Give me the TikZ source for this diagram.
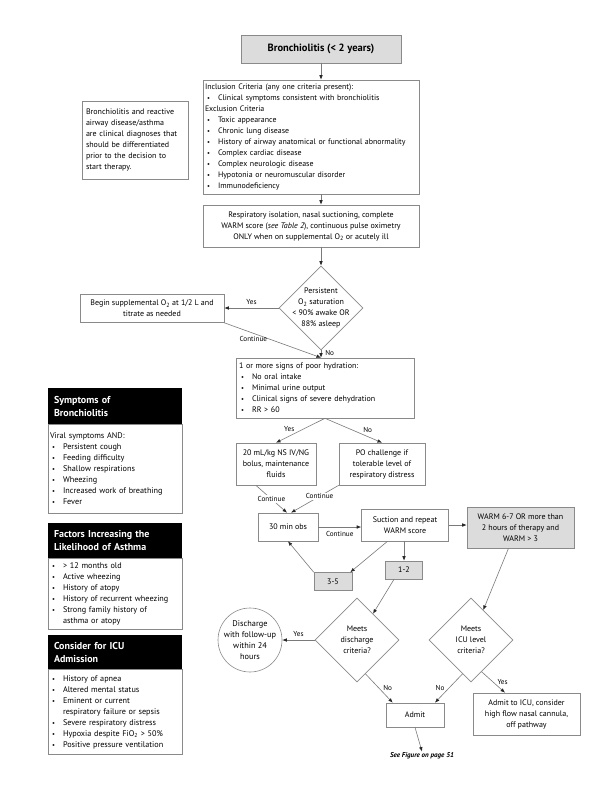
\documentclass[tikz,border=0pt]{standalone}
\usepackage{fontspec}
\setmainfont{PT Sans}
\usetikzlibrary{shapes.geometric,arrows.meta,positioning,calc}
\definecolor{boxline}{HTML}{8A8A8A}
\definecolor{lineg}{HTML}{7A7A7A}
\definecolor{cellgray}{HTML}{DCDCDC}
\newcommand\itm{\hspace*{2pt}\makebox[11pt][l]{\fontsize{6.5}{6}\selectfont\textbullet}}
\newcommand\hng{\hspace*{13pt}}
\tikzset{
  box/.style={draw=boxline, line width=.6pt, fill=white, inner sep=0pt, align=center, font=\fontsize{8}{11}\selectfont},
  shaded/.style={box, fill=cellgray},
  decision/.style={diamond, draw=boxline, line width=.6pt, fill=white, inner sep=-5pt, minimum width=84pt, minimum height=84pt, align=center, font=\fontsize{8}{11}\selectfont},
  arr/.style={draw=lineg, line width=.6pt, -{Latex[length=4.5pt,width=3.6pt,color=black!85]}},
  lab/.style={font=\fontsize{7.2}{8}\selectfont, inner sep=1pt},
  sidehead/.style={fill=black, text=white, inner sep=0pt, minimum width=134pt, text width=122pt, align=left, font=\fontsize{10}{13}\selectfont\bfseries},
  sidebody/.style={draw=boxline, line width=.6pt, inner sep=0pt, minimum width=134pt, text width=130pt, align=left, font=\fontsize{8.2}{11}\selectfont},
}
\begin{document}
\begin{tikzpicture}[x=1pt, y=-1pt]
\path[fill=white, use as bounding box] (0,0) rectangle (612,792);

% main column
\node[shaded, minimum width=160pt, minimum height=28pt, font=\fontsize{10.5}{12}\selectfont\bfseries] (title) at (321,49) {Bronchiolitis (< 2 years)};
\node[box, minimum width=216pt, minimum height=114pt, text width=212pt, align=left, font=\fontsize{7.9}{11}\selectfont] (incl) at (311,137) {Inclusion Criteria (any one criteria present):\\
  \itm Clinical symptoms consistent with bronchiolitis\\
  Exclusion Criteria\\
  \itm Toxic appearance\\
  \itm Chronic lung disease\\
  \itm History of airway anatomical or functional abnormality\\
  \itm Complex cardiac disease\\
  \itm Complex neurologic disease\\
  \itm Hypotonia or neuromuscular disorder\\
  \itm Immunodeficiency};
\node[box, minimum width=106pt, minimum height=78pt, text width=98pt, align=left] (note) at (135,140) {Bronchiolitis and reactive\\airway disease/asthma\\are clinical diagnoses that\\should be differentiated\\prior to the decision to\\start therapy.};
\node[box, minimum width=216pt, minimum height=42pt] (resp) at (311,226) {Respiratory isolation, nasal suctioning, complete\\WARM score (\textit{see Table 2}), continuous pulse oximetry\\ONLY when on supplemental O\textsubscript{2} or acutely ill};
\node[decision] (sat) at (321,308) {Persistent\\O\textsubscript{2} saturation\\< 90\% awake OR\\88\% asleep};
\node[box, minimum width=144pt, minimum height=28pt] (oxy) at (152,308.5) {Begin supplemental O\textsubscript{2} at 1/2 L and\\titrate as needed};
\node[box, minimum width=178pt, minimum height=60pt, text width=172pt, align=left] (hydr) at (325,388) {1 or more signs of poor hydration:\\
  \itm No oral intake\\
  \itm Minimal urine output\\
  \itm Clinical signs of severe dehydration\\
  \itm RR > 60};
\node[box, minimum width=80pt, minimum height=42pt] (bolus) at (276,464) {20 mL/kg NS IV/NG\\bolus, maintenance\\fluids};
\node[box, minimum width=86pt, minimum height=42pt] (po) at (382,464) {PO challenge if\\tolerable level of\\respiratory distress};
\node[box, minimum width=60pt, minimum height=28pt] (obs) at (288,527) {30 min obs};
\node[box, minimum width=87pt, minimum height=32pt] (suct) at (405,525) {Suction and repeat\\WARM score};
\node[shaded, minimum width=107pt, minimum height=41pt] (warm) at (520.5,527.5) {WARM 6-7 OR more than\\2 hours of therapy and\\WARM > 3};
\node[shaded, minimum width=37pt, minimum height=18pt] (low) at (404,570) {1-2};
\node[shaded, minimum width=38pt, minimum height=18pt] (mid) at (333,581.5) {3-5};
\node[decision] (disc) at (357,640) {Meets\\discharge\\criteria?};
\node[circle, draw=boxline, line width=.6pt, inner sep=-3pt, minimum size=64pt, align=center, font=\fontsize{8.3}{11}\selectfont] (home) at (250,640) {Discharge\\with follow-up\\within 24\\hours};
\node[decision] (icu) at (471,640) {Meets\\ICU level\\criteria?};
\node[box, minimum width=58pt, minimum height=24pt] (admit) at (415,715) {Admit};
\node[box, minimum width=107pt, minimum height=42pt] (icuadm) at (526.5,714) {Admit to ICU, consider\\high flow nasal cannula,\\off pathway};
\node[font=\fontsize{7}{8}\selectfont\bfseries\itshape, inner sep=1pt] (seefig) at (422,756) {See Figure on page 51};

% side column
\node[sidehead, minimum height=36pt] (symhead) at (115,406) {Symptoms of\\Bronchiolitis};
\node[sidebody, minimum height=89pt, below=0pt of symhead] (symbody) {Viral symptoms AND:\\
  \itm Persistent cough\\
  \itm Feeding difficulty\\
  \itm Shallow respirations\\
  \itm Wheezing\\
  \itm Increased work of breathing\\
  \itm Fever};
\node[sidehead, minimum height=35pt] (asthead) at (115,540.5) {Factors Increasing the\\Likelihood of Asthma};
\node[sidebody, minimum height=71pt, below=0pt of asthead] (astbody) {\itm > 12 months old\\
  \itm Active wheezing\\
  \itm History of atopy\\
  \itm History of recurrent wheezing\\
  \itm Strong family history of\\
  \hng asthma or atopy};
\node[sidehead, minimum height=34pt] (icuhead) at (115,652) {Consider for ICU\\Admission};
\node[sidebody, minimum height=85pt, below=0pt of icuhead] (icubody) {\itm History of apnea\\
  \itm Altered mental status\\
  \itm Eminent or current\\
  \hng respiratory failure or sepsis\\
  \itm Severe respiratory distress\\
  \itm Hypoxia despite FiO\textsubscript{2} > 50\%\\
  \itm Positive pressure ventilation};

% connectors
\draw[arr] (title.south) -- (title.south |- incl.north);
\draw[arr] (title.south |- incl.south) -- (title.south |- resp.north);
\draw[arr] (sat.north |- resp.south) -- (sat.north);
\draw[arr] (sat.west) -- (sat.west -| oxy.east) node[lab, midway, above=2pt] {Yes};
\draw[arr] (oxy.south east) -- (sat.south |- hydr.north) node[lab, pos=.3, below=2pt] {Continue};
\draw[arr] (sat.south) -- (sat.south |- hydr.north) node[lab, pos=.4, right=3pt] {No};
\draw[arr] (hydr.south) -- (bolus.north) node[lab, pos=.6, above left] {Yes};
\draw[arr] (hydr.south) -- (po.north) node[lab, pos=.65, above right] {No};
\draw[arr] ($(bolus.south west)!.25!(bolus.south east)$) -- ($(obs.north)+(-1,0)$) node[lab, fill=white, midway] {Continue};
\draw[arr] (po.south west) -- ($(obs.north)+(3,0)$) node[lab, fill=white, pos=.4] {Continue};
\draw[arr] (obs.east) -- (obs.east -| suct.west) node[lab, midway, below=3pt] {Continue};
\draw[arr] (suct.east) -- (suct.east -| warm.west);
\draw[arr] (suct.south -| low.north) -- (low.north);
\draw[arr] ($(suct.south west)!.6!(suct.south)$) -- ($(mid.north east)+(-2,0)$);
\draw[arr] (mid.north west) -- (obs.south);
\draw[arr] ($(warm.south)+(-12,0)$) -- (icu);
\draw[arr] ($(low.south)+(-10,0)$) -- (disc);
\draw[arr] (disc.west) -- (home.east) node[lab, midway, above=2pt] {Yes};
\draw[arr] ($(disc.south)!.4!(disc.south east)$) -- ($(admit.north west)!.12!(admit.north east)$) node[lab, midway, right=3pt] {No};
\draw[arr] ($(icu.south)!.4!(icu.south west)$) -- ($(admit.north west)!.84!(admit.north east)$) node[lab, midway, left=3pt] {No};
\draw[arr] ($(icu.south)!.5!(icu.south east)$) -- ($(icuadm.north west)!.3!(icuadm.north east)$) node[lab, midway, right=3pt] {Yes};
\draw[arr] (admit.south) -- (seefig.north);
\end{tikzpicture}
\end{document}
